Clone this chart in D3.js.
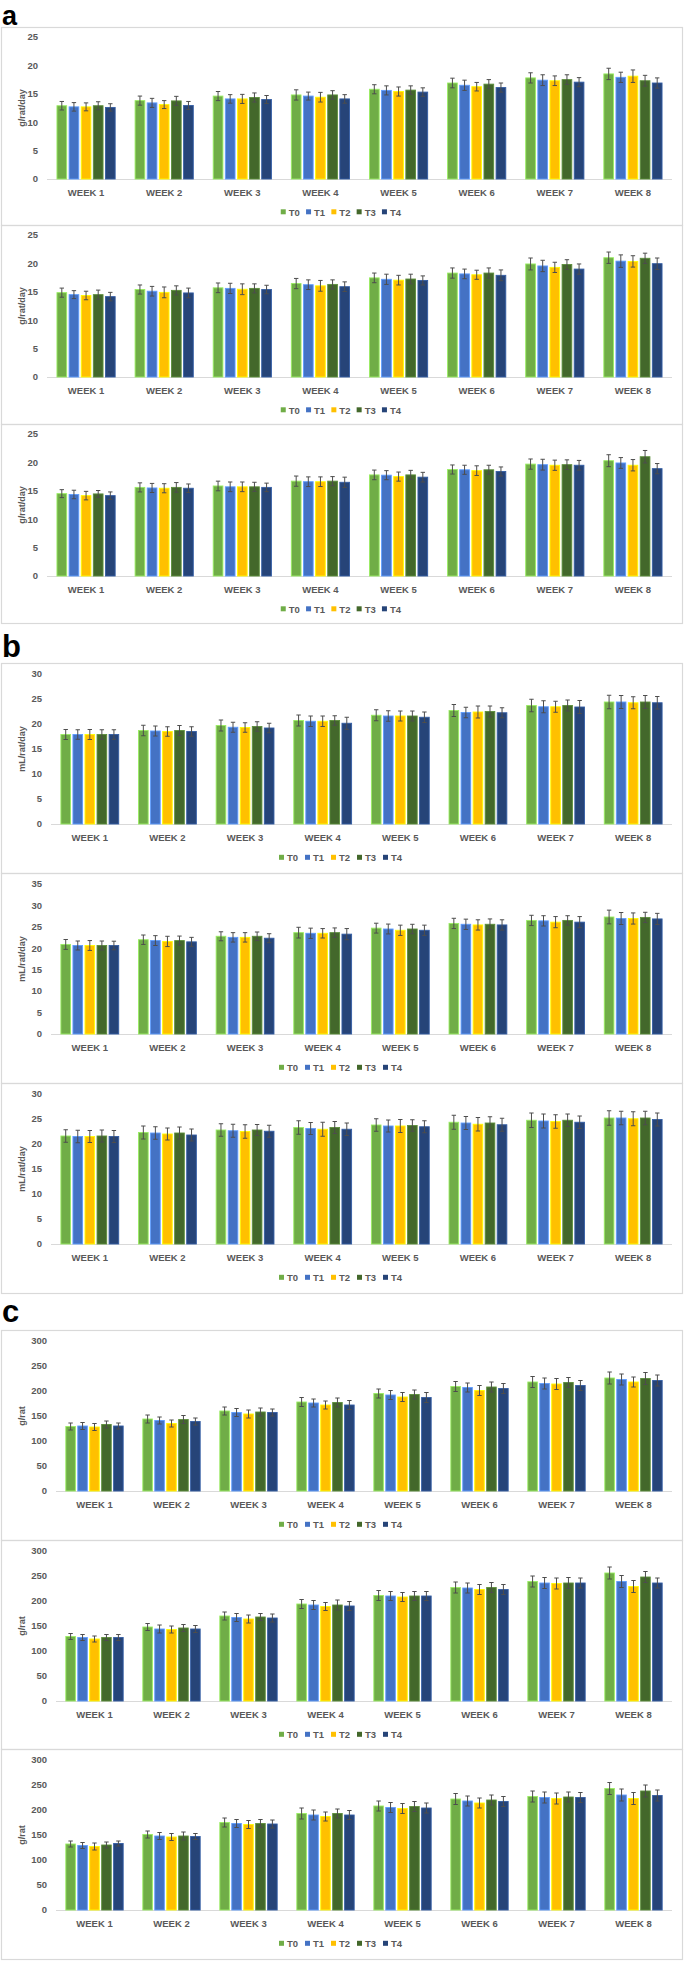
<!DOCTYPE html>
<html>
<head>
<meta charset="utf-8">
<script src="https://cdn.jsdelivr.net/npm/d3@7"></script>
<style>
  body { margin: 0; background: #fff; }
  svg { display: block; font-family: "Liberation Sans", Arial, sans-serif; }
  .tick-label, .week, .ylab, .leg { fill: #595959; font-weight: bold; }
</style>
</head>
<body>
<svg id="fig" width="685" height="1962"></svg>
<script>
const weeks = ["WEEK 1","WEEK 2","WEEK 3","WEEK 4","WEEK 5","WEEK 6","WEEK 7","WEEK 8"];
const groups = ["T0","T1","T2","T3","T4"];
const colors = ["#70ad47","#4472c4","#ffc000","#43682b","#264478"];

// a: feed intake (g/rat/day), rows T0..T4, columns week 1..8
const a1Means = [
  [12.9, 13.8, 14.6, 14.8, 15.8, 16.9, 17.8, 18.5],
  [12.7, 13.4, 14.1, 14.6, 15.6, 16.5, 17.4, 17.9],
  [12.7, 13.1, 14.1, 14.4, 15.4, 16.25, 17.3, 18.1],
  [12.9, 13.75, 14.35, 14.8, 15.65, 16.7, 17.5, 17.3],
  [12.6, 12.95, 14.0, 14.1, 15.3, 16.1, 17.05, 16.9]
];
const a1Errs = [
  [0.75, 0.8, 0.8, 0.9, 0.8, 0.85, 0.9, 1.0],
  [0.75, 0.8, 0.75, 0.7, 0.8, 0.9, 0.95, 0.9],
  [0.7, 0.7, 0.8, 0.85, 0.8, 0.75, 0.85, 1.1],
  [0.7, 0.8, 0.8, 0.75, 0.75, 0.8, 0.85, 0.95],
  [0.65, 0.7, 0.7, 0.75, 0.75, 0.8, 0.8, 0.9]
];
const a2Means = [
  [14.85, 15.4, 15.7, 16.45, 17.45, 18.3, 19.9, 21.0],
  [14.5, 15.1, 15.6, 16.25, 17.2, 18.15, 19.55, 20.4],
  [14.35, 14.9, 15.45, 16.05, 17.05, 18.0, 19.3, 20.35],
  [14.5, 15.25, 15.6, 16.3, 17.25, 18.3, 19.8, 20.9],
  [14.15, 14.8, 15.4, 15.9, 17.0, 17.9, 19.0, 19.95]
];
const a2Errs = [
  [0.8, 0.8, 0.85, 0.9, 0.85, 0.9, 1.05, 1.0],
  [0.7, 0.85, 0.9, 0.85, 0.9, 0.85, 1.0, 1.1],
  [0.75, 0.95, 0.95, 0.95, 0.85, 0.8, 0.9, 1.0],
  [0.8, 0.8, 0.8, 0.8, 0.85, 0.9, 0.85, 0.9],
  [0.75, 0.85, 0.75, 0.85, 0.8, 0.95, 0.9, 1.0]
];
const a3Means = [
  [14.5, 15.6, 15.85, 16.7, 17.8, 18.75, 19.7, 20.3],
  [14.35, 15.5, 15.7, 16.6, 17.75, 18.7, 19.6, 19.9],
  [14.15, 15.45, 15.7, 16.6, 17.5, 18.55, 19.5, 19.5],
  [14.45, 15.6, 15.7, 16.7, 17.8, 18.7, 19.6, 21.0],
  [14.15, 15.45, 15.6, 16.5, 17.4, 18.4, 19.5, 18.9]
];
const a3Errs = [
  [0.7, 0.8, 0.85, 0.9, 0.85, 0.8, 0.9, 1.05],
  [0.75, 0.8, 0.85, 0.85, 0.8, 0.8, 0.95, 0.95],
  [0.75, 0.8, 0.85, 0.85, 0.8, 0.85, 0.9, 1.0],
  [0.6, 0.85, 0.8, 0.8, 0.8, 0.8, 0.85, 1.1],
  [0.65, 0.75, 0.75, 0.9, 0.85, 0.8, 0.85, 0.9]
];

// b: water intake (mL/rat/day)
const b1Means = [
  [17.9, 18.7, 19.7, 20.7, 21.75, 22.7, 23.7, 24.4],
  [17.9, 18.6, 19.35, 20.55, 21.6, 22.3, 23.45, 24.4],
  [17.9, 18.5, 19.3, 20.55, 21.6, 22.4, 23.45, 24.25],
  [17.9, 18.7, 19.5, 20.7, 21.6, 22.5, 23.7, 24.4],
  [17.9, 18.5, 19.2, 20.15, 21.35, 22.25, 23.4, 24.25]
];
const b1Errs = [
  [1.0, 1.05, 1.1, 1.1, 1.1, 1.2, 1.25, 1.35],
  [0.95, 1.0, 1.0, 1.05, 1.05, 1.05, 1.2, 1.3],
  [1.0, 0.95, 0.95, 1.05, 1.0, 1.2, 1.1, 1.2],
  [0.95, 1.0, 0.95, 0.95, 1.0, 1.1, 1.1, 1.3],
  [0.95, 0.95, 0.95, 1.2, 1.05, 1.0, 1.3, 1.25]
];
const b2Means = [
  [20.9, 22.0, 22.8, 23.65, 24.7, 25.8, 26.5, 27.3],
  [20.65, 21.8, 22.55, 23.5, 24.5, 25.6, 26.4, 26.95],
  [20.65, 21.6, 22.55, 23.5, 24.2, 25.45, 26.1, 26.95],
  [20.65, 21.8, 22.8, 23.65, 24.5, 25.6, 26.5, 27.2],
  [20.65, 21.5, 22.35, 23.3, 24.2, 25.45, 26.1, 26.85]
];
const b2Errs = [
  [1.15, 1.1, 1.05, 1.25, 1.15, 1.2, 1.2, 1.6],
  [1.05, 1.15, 1.1, 1.2, 1.15, 1.2, 1.2, 1.4],
  [1.15, 1.2, 1.1, 1.1, 1.2, 1.2, 1.3, 1.3],
  [1.05, 1.05, 1.0, 1.1, 1.1, 1.25, 1.1, 1.2],
  [1.0, 1.05, 1.05, 1.3, 1.2, 1.2, 1.3, 1.3]
];
const b3Means = [
  [21.6, 22.3, 22.8, 23.3, 23.8, 24.35, 24.75, 25.2],
  [21.5, 22.2, 22.65, 23.1, 23.6, 24.2, 24.6, 25.2],
  [21.5, 22.0, 22.5, 22.95, 23.6, 23.95, 24.5, 25.05],
  [21.6, 22.2, 22.8, 23.3, 23.7, 24.2, 24.75, 25.2],
  [21.5, 21.8, 22.55, 22.95, 23.45, 23.85, 24.35, 24.9]
];
const b3Errs = [
  [1.25, 1.3, 1.25, 1.35, 1.25, 1.4, 1.45, 1.45],
  [1.25, 1.25, 1.3, 1.2, 1.2, 1.3, 1.4, 1.35],
  [1.2, 1.2, 1.35, 1.4, 1.3, 1.35, 1.35, 1.4],
  [1.2, 1.2, 1.1, 1.2, 1.15, 1.25, 1.25, 1.35],
  [1.2, 1.2, 1.2, 1.25, 1.2, 1.3, 1.25, 1.3]
];

// c: body weight (g/rat)
const c1Means = [
  [129, 144, 160, 178, 195, 209, 218, 226],
  [130, 141, 157, 176, 192, 207, 215, 223],
  [128, 135, 154, 172, 188, 201, 214, 218],
  [133, 143, 158, 177, 193, 208, 217, 225],
  [130, 139, 157, 172, 187, 205, 211, 221]
];
const c1Errs = [
  [7, 8, 8, 9, 9, 10, 11, 12],
  [7, 7, 8, 8, 9, 9, 11, 11],
  [7, 7, 8, 8, 9, 10, 11, 10],
  [7, 8, 8, 9, 9, 10, 10, 12],
  [6, 7, 7, 9, 10, 10, 10, 11]
];
const c2Means = [
  [129, 148, 170, 194, 211, 227, 239, 256],
  [127, 144, 167, 192, 210, 226, 236, 239],
  [124, 143, 164, 189, 208, 223, 235, 229],
  [127, 146, 168, 192, 210, 227, 236, 248],
  [127, 144, 166, 190, 210, 223, 236, 236]
];
const c2Errs = [
  [6, 7, 8, 9, 10, 11, 11, 12],
  [6, 8, 8, 9, 9, 10, 11, 12],
  [6, 7, 8, 8, 9, 10, 11, 12],
  [6, 7, 7, 10, 9, 10, 11, 11],
  [6, 7, 8, 9, 9, 10, 10, 10]
];
const c3Means = [
  [132, 151, 175, 193, 208, 222, 227, 243],
  [129, 148, 173, 190, 205, 218, 225, 230],
  [127, 146, 171, 187, 203, 214, 223, 223],
  [130, 148, 173, 193, 207, 220, 226, 238],
  [133, 147, 172, 190, 204, 217, 225, 229]
];
const c3Errs = [
  [6, 7, 9, 11, 10, 11, 11, 12],
  [6, 7, 8, 10, 10, 10, 11, 12],
  [7, 7, 8, 9, 10, 10, 11, 12],
  [6, 8, 8, 9, 10, 10, 10, 12],
  [5, 6, 8, 9, 10, 10, 10, 11]
];

const svg = d3.select("#fig");

// panel letters
[["a", 25, 27], ["b", 657, 31], ["c", 1322, 31]].forEach(([t, y, fs]) => {
  svg.append("text").attr("x", 2).attr("y", y)
    .attr("font-size", fs).attr("font-weight", "bold").attr("fill", "#000")
    .text(t);
});

const panels = [
  {top: 27,   h: 198, kind: "a", ymax: 25,  step: 5,  label: "g/rat/day",  left: 47, means: a1Means, errs: a1Errs},
  {top: 225,  h: 199, kind: "a", ymax: 25,  step: 5,  label: "g/rat/day",  left: 47, means: a2Means, errs: a2Errs},
  {top: 424,  h: 199, kind: "a", ymax: 25,  step: 5,  label: "g/rat/day",  left: 47, means: a3Means, errs: a3Errs},
  {top: 663,  h: 210, kind: "b", ymax: 30,  step: 5,  label: "mL/rat/day", left: 51, means: b1Means, errs: b1Errs},
  {top: 873,  h: 210, kind: "b", ymax: 35,  step: 5,  label: "mL/rat/day", left: 51, means: b2Means, errs: b2Errs},
  {top: 1083, h: 210, kind: "b", ymax: 30,  step: 5,  label: "mL/rat/day", left: 51, means: b3Means, errs: b3Errs},
  {top: 1330, h: 210, kind: "c", ymax: 300, step: 50, label: "g/rat",      left: 56, means: c1Means, errs: c1Errs},
  {top: 1540, h: 209, kind: "c", ymax: 300, step: 50, label: "g/rat",      left: 56, means: c2Means, errs: c2Errs},
  {top: 1749, h: 210, kind: "c", ymax: 300, step: 50, label: "g/rat",      left: 56, means: c3Means, errs: c3Errs}
];

panels.forEach(p => {
  const g = svg.append("g");
  const small = p.kind === "a";
  const y0 = p.top + (small ? 152 : 161);
  const y1 = p.top + (small ? 10 : 11);
  const right = 672;

  g.append("rect")
    .attr("x", 1.5).attr("y", p.top + 0.5)
    .attr("width", 681).attr("height", p.h)
    .attr("fill", "none").attr("stroke", "#d9d9d9").attr("stroke-width", 1.2);

  const y = d3.scaleLinear().domain([0, p.ymax]).range([y0, y1]);
  const x0 = d3.scaleBand().domain(weeks).range([p.left, right]).paddingInner(0.255).paddingOuter(0.1275);
  const x1 = d3.scaleBand().domain(groups).range([0, x0.bandwidth()]).paddingInner(0.2);

  // y tick labels
  g.selectAll(".tick-label")
    .data(d3.range(0, p.ymax + 0.001, p.step))
    .join("text").attr("class", "tick-label")
    .attr("x", p.left - 9).attr("y", d => y(d)).attr("dy", "0.35em")
    .attr("text-anchor", "end").attr("font-size", 9.5)
    .text(d => d);

  // baseline
  g.append("line")
    .attr("x1", p.left).attr("x2", right)
    .attr("y1", y0 + 0.5).attr("y2", y0 + 0.5)
    .attr("stroke", "#d9d9d9").attr("stroke-width", 1.2);

  // y axis title
  const yc = (y0 + y1) / 2;
  g.append("text").attr("class", "ylab")
    .attr("transform", `translate(25,${yc}) rotate(-90)`)
    .attr("text-anchor", "middle").attr("font-size", 9)
    .text(p.label);

  // bars
  const cells = [];
  p.means.forEach((row, si) => row.forEach((v, wi) => {
    cells.push({w: weeks[wi], s: groups[si], si, v, e: p.errs[si][wi]});
  }));

  g.selectAll(".bar").data(cells).join("rect").attr("class", "bar")
    .attr("x", d => x0(d.w) + x1(d.s))
    .attr("width", x1.bandwidth())
    .attr("y", d => y(d.v))
    .attr("height", d => y0 - y(d.v))
    .attr("fill", d => colors[d.si])
    .attr("stroke", d => d3.color(colors[d.si]).brighter(0.9))
    .attr("stroke-width", 0.9);

  // error bars
  const eb = g.selectAll(".err").data(cells).join("g").attr("class", "err")
    .attr("stroke", "#4d4d4d").attr("stroke-width", 1);
  eb.append("line")
    .attr("x1", d => x0(d.w) + x1(d.s) + x1.bandwidth() / 2)
    .attr("x2", d => x0(d.w) + x1(d.s) + x1.bandwidth() / 2)
    .attr("y1", d => y(d.v - d.e)).attr("y2", d => y(d.v + d.e));
  [-1, 1].forEach(sgn => {
    eb.append("line")
      .attr("x1", d => x0(d.w) + x1(d.s) + x1.bandwidth() / 2 - 2.2)
      .attr("x2", d => x0(d.w) + x1(d.s) + x1.bandwidth() / 2 + 2.2)
      .attr("y1", d => y(d.v + sgn * d.e)).attr("y2", d => y(d.v + sgn * d.e));
  });

  // week labels
  g.selectAll(".week").data(weeks).join("text").attr("class", "week")
    .attr("x", d => x0(d) + x0.bandwidth() / 2)
    .attr("y", p.top + (small ? 168.5 : 177.5))
    .attr("text-anchor", "middle").attr("font-size", 9.5)
    .text(d => d);

  // legend
  const ly = p.top + (small ? 188.5 : 198);
  const itemW = small ? 25.3 : 26;
  const lx = 344 - itemW * groups.length / 2;
  const leg = g.selectAll(".leg-item").data(groups).join("g").attr("class", "leg-item")
    .attr("transform", (d, i) => `translate(${lx + i * itemW},${ly})`);
  leg.append("rect").attr("x", 0).attr("y", -6.2).attr("width", 5).attr("height", 5)
    .attr("fill", (d, i) => colors[i]);
  leg.append("text").attr("class", "leg").attr("x", 8).attr("y", 0)
    .attr("font-size", 9.5).text(d => d);
});
</script>
</body>
</html>
